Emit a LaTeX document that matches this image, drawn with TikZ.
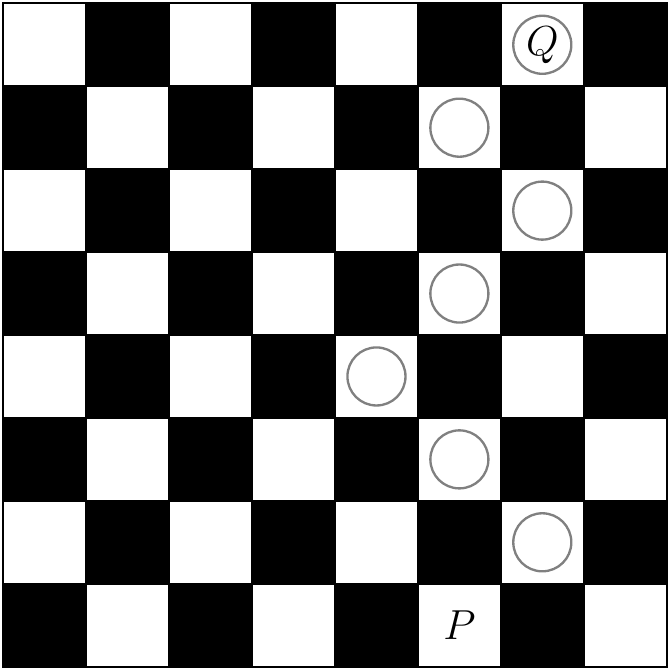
\documentclass[tikz,border=0pt]{standalone}
\begin{document}
\begin{tikzpicture}[
  sq/.style={draw=black, line width=0.6pt},
  mark circ/.style={circle, draw=gray, line width=0.8pt, minimum size=0.7cm, inner sep=0pt, font=\Large},
  lbl/.style={font=\Large, inner sep=0pt}
]
\useasboundingbox (-0.04,-0.04) rectangle (8.04,8.04);
\foreach \r in {0,...,7} {
  \foreach \c in {0,...,7} {
    \pgfmathtruncatemacro{\sqpar}{mod(\r+\c,2)}
    \ifnum\sqpar=0
      \fill[white] (\c,7-\r) rectangle ++(1,1);
      \draw[sq] (\c,7-\r) rectangle ++(1,1);
    \else
      \filldraw[sq, fill=black] (\c,7-\r) rectangle ++(1,1);
    \fi
  }
}
\draw[line width=0.6pt] (0,0) rectangle (8,8);
\node[mark circ] (q) at (6.5,7.5) {$Q$};
\node[mark circ] (c1) at (5.5,6.5) {};
\node[mark circ] (c2) at (6.5,5.5) {};
\node[mark circ] (c3) at (5.5,4.5) {};
\node[mark circ] (c4) at (4.5,3.5) {};
\node[mark circ] (c5) at (5.5,2.5) {};
\node[mark circ] (c6) at (6.5,1.5) {};
\node[lbl] (p) at (5.5,0.5) {$P$};
\end{tikzpicture}
\end{document}
